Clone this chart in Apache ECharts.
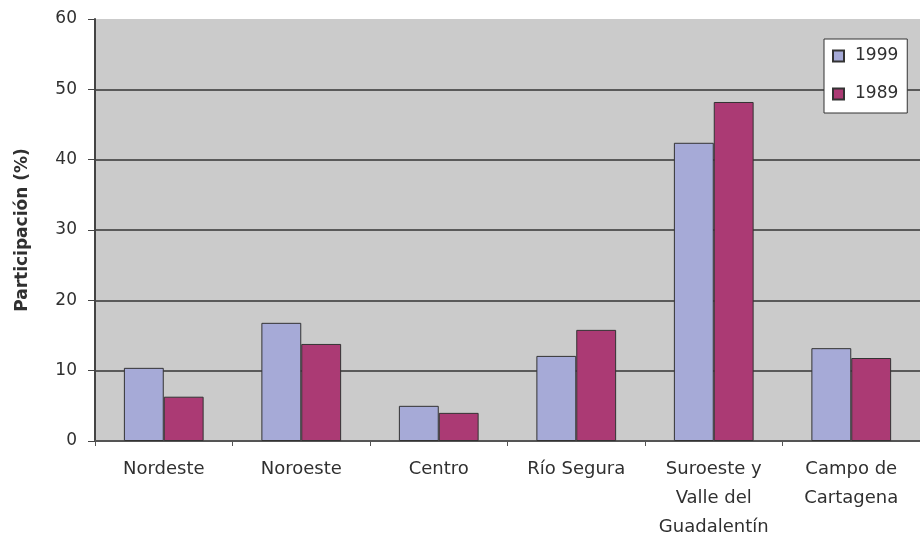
<!DOCTYPE html>
<html>
<head>
<meta charset="utf-8">
<script src="https://cdn.jsdelivr.net/npm/echarts@6/dist/echarts.min.js"></script>
<style>
  html, body { margin: 0; padding: 0; background: #ffffff; }
  #chart { width: 920px; height: 542px; }
</style>
</head>
<body>
<div id="chart"></div>
<script>
// Regional share (%) by comarca, two census years
const categories = ['Nordeste', 'Noroeste', 'Centro', 'Río Segura', 'Suroeste y\nValle del\nGuadalentín', 'Campo de\nCartagena'];
const seriesNames = ['1999', '1989'];
const values1999 = [10.4, 16.8, 5.0, 12.1, 42.4, 13.2];
const values1989 = [6.3, 13.8, 4.0, 15.8, 48.2, 11.8];
const yTicks = { min: 0, max: 60, interval: 10 };

const FONT = '"DejaVu Sans", sans-serif';
const TEXT = '#303030';

const chart = echarts.init(document.getElementById('chart'), null, { renderer: 'canvas' });

chart.setOption({
  backgroundColor: '#ffffff',
  animation: false,
  grid: {
    left: 95, top: 19, right: -5, bottom: 100,
    show: true,
    backgroundColor: '#cbcbcb',
    borderWidth: 0
  },
  legend: {
    orient: 'vertical',
    left: 824, top: 39,
    padding: [7, 9, 9, 8],
    itemGap: 18,
    itemWidth: 11, itemHeight: 11,
    backgroundColor: '#ffffff',
    borderColor: '#333333',
    borderWidth: 1,
    borderRadius: 0,
    icon: 'rect',
    textStyle: { fontFamily: FONT, fontSize: 17, color: TEXT, lineHeight: 20, padding: [0, 0, 0, 6] },
    data: seriesNames
  },
  xAxis: {
    type: 'category',
    data: categories,
    boundaryGap: true,
    axisLine: { show: true, lineStyle: { color: '#555555', width: 2 } },
    axisTick: { show: true, length: 5, lineStyle: { color: '#555555', width: 1 } },
    axisLabel: {
      fontFamily: FONT, fontSize: 18, color: TEXT,
      lineHeight: 29, margin: 14, interval: 0, align: 'center'
    },
    splitLine: { show: false }
  },
  yAxis: {
    type: 'value',
    min: yTicks.min, max: yTicks.max, interval: yTicks.interval,
    name: 'Participación (%)',
    nameLocation: 'middle',
    nameGap: 64,
    nameRotate: 90,
    nameTextStyle: { fontFamily: FONT, fontSize: 17, fontWeight: 'bold', color: TEXT },
    axisLine: { show: true, lineStyle: { color: '#444444', width: 2 } },
    axisTick: { show: true, length: 7, inside: false, lineStyle: { color: '#444444', width: 1 } },
    axisLabel: { fontFamily: FONT, fontSize: 17, color: TEXT, margin: 18 },
    splitLine: { show: true, showMaxLine: false, lineStyle: { color: '#5a5a5a', width: 2 } }
  },
  series: [
    {
      name: seriesNames[0],
      type: 'bar',
      data: values1999,
      barGap: '0%',
      barCategoryGap: '42%',
      itemStyle: { color: '#a6aad7', borderColor: '#333333', borderWidth: 1 }
    },
    {
      name: seriesNames[1],
      type: 'bar',
      data: values1989,
      barGap: '0%',
      barCategoryGap: '42%',
      itemStyle: { color: '#ab3a74', borderColor: '#333333', borderWidth: 1 }
    }
  ]
});
</script>
</body>
</html>
